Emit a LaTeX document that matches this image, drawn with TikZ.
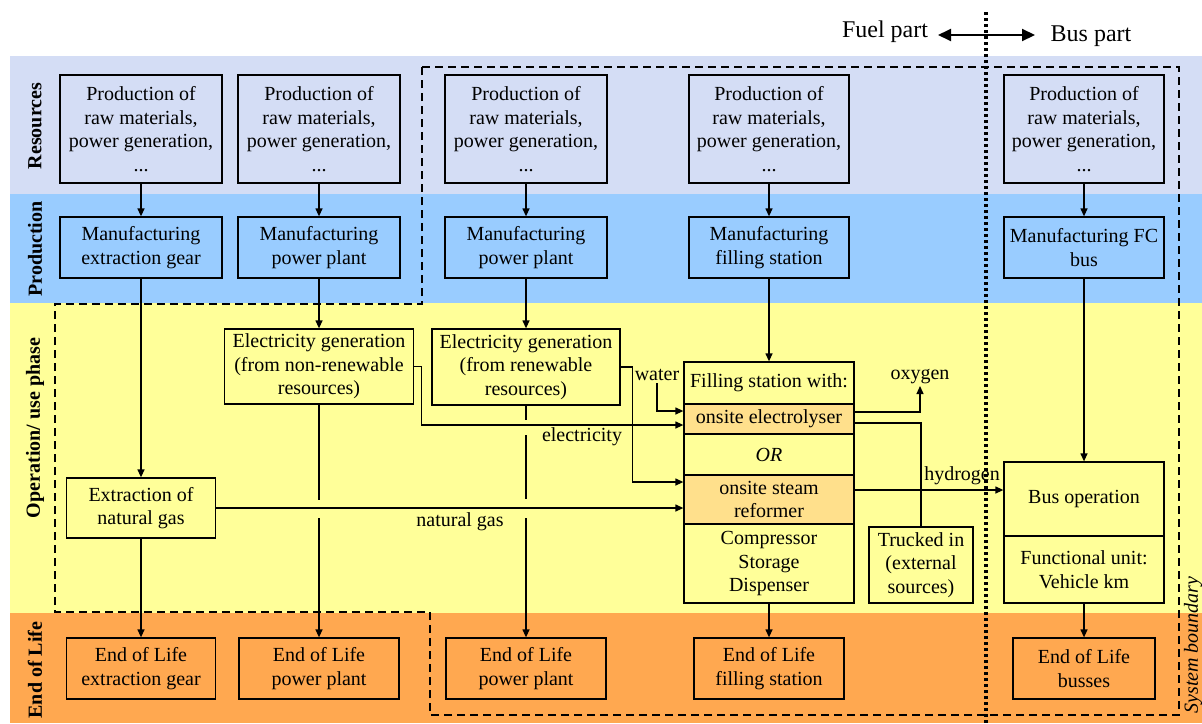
\documentclass[tikz,border=0pt]{standalone}
\usepackage{fontspec}
\setmainfont{Liberation Serif}
\usetikzlibrary{arrows.meta,calc}
\definecolor{cres}{RGB}{212,221,245}
\definecolor{cprod}{RGB}{153,204,255}
\definecolor{cop}{RGB}{255,255,153}
\definecolor{ceol}{RGB}{255,168,80}
\definecolor{chl}{RGB}{255,224,140}
\begin{document}
\begin{tikzpicture}[x=0.5pt,y=-0.5pt,
  box/.style={draw, line width=0.65pt, align=center, inner sep=1pt, font=\fontsize{10}{11.75}\selectfont},
  hl/.style={box, fill=chl},
  lbl/.style={inner sep=1pt, font=\fontsize{10}{11.75}\selectfont},
  band/.style={font=\bfseries\fontsize{10}{12}\selectfont, rotate=90, inner sep=0pt},
  arr/.style={line width=0.65pt, -{Triangle[length=4pt,width=3.5pt]}},
  ln/.style={line width=0.65pt},
  boundary/.style={line width=1pt, dash pattern=on 4pt off 2.5pt},
  partline/.style={line width=1.7pt, dash pattern=on 1.6pt off 1.4pt},
  big/.style={inner sep=1pt, font=\fontsize{12}{14}\selectfont},
]
\useasboundingbox (0,0) rectangle (1202,723);
\fill[white] (0,0) rectangle (1202,723);
% bands
\fill[cres] (10,56) rectangle (1202,194);
\fill[cprod] (10,194) rectangle (1202,303);
\fill[cop] (10,303) rectangle (1202,613);
\fill[ceol] (10,613) rectangle (1202,723);
\node[band] (bres) at (35,126) {Resources};
\node[band] (bprod) at (35,249) {Production};
\node[band] (bop) at (35,428) {Operation/ use phase};
\node[band] (beol) at (35,670) {End of Life};

% system boundary
\draw[boundary] (422,67) -- (1179,67) -- (1179,715) -- (430,715) -- (430,612) -- (55,612) -- (55,304) -- (422,304) -- cycle;
\node[font=\itshape\fontsize{10}{12}\selectfont, rotate=90, inner sep=0pt] (sysb) at (1193,645) {System boundary};

% resources
\node[box, minimum width=81pt, minimum height=54pt] (r1) at (141,129) {Production of\\raw materials,\\power generation,\\...};
\node[box, minimum width=81pt, minimum height=54pt] (r2) at (319,129) {Production of\\raw materials,\\power generation,\\...};
\node[box, minimum width=81pt, minimum height=54pt] (r3) at (526,129) {Production of\\raw materials,\\power generation,\\...};
\node[box, minimum width=80pt, minimum height=54pt] (r4) at (769,129) {Production of\\raw materials,\\power generation,\\...};
\node[box, minimum width=80pt, minimum height=54pt] (r5) at (1084,129) {Production of\\raw materials,\\power generation,\\...};

% production
\node[box, minimum width=81pt, minimum height=30.5pt] (p1) at (141,247.5) {Manufacturing\\extraction gear};
\node[box, minimum width=81pt, minimum height=30.5pt] (p2) at (319,247.5) {Manufacturing\\power plant};
\node[box, minimum width=81pt, minimum height=30.5pt] (p3) at (526,247.5) {Manufacturing\\power plant};
\node[box, minimum width=80pt, minimum height=30.5pt] (p4) at (769,247.5) {Manufacturing\\filling station};
\node[box, minimum width=80pt, minimum height=30.5pt] (p5) at (1084,247.5) {Manufacturing FC\\bus};

% operation
\node[box, minimum width=94.5pt, minimum height=37.5pt] (enr) at (319,366.5) {Electricity generation\\(from non-renewable\\resources)};
\node[box, minimum width=94pt, minimum height=38pt] (er) at (526,367) {Electricity generation\\(from renewable\\resources)};
\node[box, minimum width=74.5pt, minimum height=30pt] (ext) at (141,508) {Extraction of\\natural gas};

\node[box, minimum width=85pt, minimum height=21pt] (fsH) at (769,383) {Filling station with:};
\node[hl, minimum width=85pt, minimum height=15pt] (fsE) at (769,419) {onsite electrolyser};
\node[box, minimum width=85pt, minimum height=20.5pt] (fsOR) at (769,454.5) {\textit{OR}};
\node[hl, minimum width=85pt, minimum height=24.5pt] (fsR) at (769,499.5) {onsite steam\\reformer};
\node[box, minimum width=85pt, minimum height=39.5pt] (fsC) at (769,563.5) {Compressor\\Storage\\Dispenser};

\node[box, minimum width=52pt, minimum height=38pt] (trucked) at (921,565) {Trucked in\\(external\\sources)};
\node[box, minimum width=80pt, minimum height=37pt] (busop) at (1084,499) {Bus operation};
\node[box, minimum width=80pt, minimum height=33.5pt] (fu) at (1084,569.5) {Functional unit:\\Vehicle km};

% end of life
\node[box, minimum width=74.5pt, minimum height=30.5pt] (e1) at (141,668.5) {End of Life\\extraction gear};
\node[box, minimum width=80pt, minimum height=30.5pt] (e2) at (319,668.5) {End of Life\\power plant};
\node[box, minimum width=80pt, minimum height=30.5pt] (e3) at (526,668.5) {End of Life\\power plant};
\node[box, minimum width=75pt, minimum height=30.5pt] (e4) at (769,668.5) {End of Life\\filling station};
\node[box, minimum width=71pt, minimum height=30.5pt] (e5) at (1084,668.5) {End of Life\\busses};

% labels
\node[lbl] (elec) at (582,437) {electricity};
\node[lbl] (ng) at (460,522) {natural gas};
\node[lbl, anchor=south] (water) at (657,383) {water};
\node[lbl, anchor=south] (oxygen) at (920,386) {oxygen};
\node[lbl] (h2) at (962,476) {hydrogen};

% vertical arrows
\foreach \i in {1,...,5} {\draw[arr] (r\i) -- (p\i);}
\draw[arr] (p1) -- (ext);
\draw[arr] (p2) -- (enr);
\draw[arr] (p3) -- (er);
\draw[arr] (p4) -- (fsH);
\draw[arr] (p5) -- (busop);
\draw[arr] (ext) -- (e1);
\draw[ln] (enr.south) -- (enr.south |- 0,500);
\draw[arr] (enr.south |- 0,518) -- (e2.north);
\draw[ln] (er.south) -- (er.south |- 0,420);
\draw[ln] (er.south |- 0,435) -- (er.south |- 0,499);
\draw[arr] (er.south |- 0,518) -- (e3.north);
\draw[arr] (fsC) -- (e4);
\draw[arr] (fu) -- (e5);

% flows
\draw[arr] (enr.east) -- ++(7,0) |- (fsE.west |- 0,425);
\draw[arr] (er.east) -- ++(12,0) |- (fsR.west |- 0,482);
\draw[arr] (water.south) |- (fsE.west |- 0,411);
\draw[arr] (ext.east) -- (ext.east -| fsR.west);
\draw[arr] (fsE.east |- 0,412) -| (oxygen.south);
\draw[ln] (trucked.north) |- (fsE.east |- 0,423);
\draw[arr] (fsR.east |- 0,490) -- (busop.west |- 0,490);

% fuel / bus part
\node[big] (fuel) at (885,32) {Fuel part};
\node[big] (bus) at (1091,36) {Bus part};
\coordinate (la) at (938,35);
\coordinate (lb) at (1035,35);
\draw[line width=1pt, {Triangle[length=6.5pt,width=6pt]}-{Triangle[length=6.5pt,width=6pt]}] (la) -- (lb);
\coordinate (dt) at (986,12);
\coordinate (db) at (986,723);
\draw[partline] (dt) -- (db);
\end{tikzpicture}
\end{document}
